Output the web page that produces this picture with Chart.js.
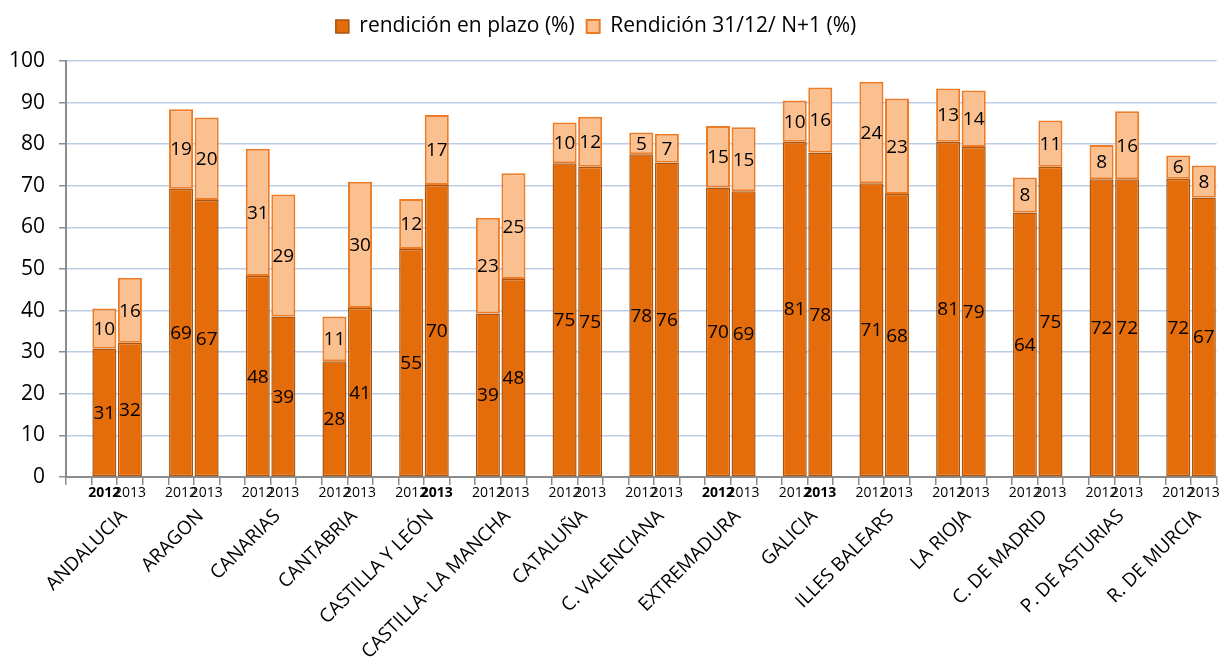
<!DOCTYPE html>
<html>
<head>
<meta charset="utf-8">
<script src="https://cdn.jsdelivr.net/npm/chart.js@4"></script>
<style>
  html, body { margin: 0; padding: 0; background: #ffffff; }
  #wrap { width: 1220px; height: 659px; position: relative; }
</style>
</head>
<body>
<div id="wrap"><canvas id="c"></canvas></div>
<script>
const regions = ['ANDALUCIA', 'ARAGON', 'CANARIAS', 'CANTABRIA', 'CASTILLA Y LEÓN', 'CASTILLA- LA MANCHA',
  'CATALUÑA', 'C. VALENCIANA', 'EXTREMADURA', 'GALICIA', 'ILLES BALEARS', 'LA RIOJA',
  'C. DE MADRID', 'P. DE ASTURIAS', 'R. DE MURCIA'];
const years = ['2012', '2013'];
const seriesNames = ['rendición en plazo (%)', 'Rendición 31/12/ N+1 (%)'];

const plazo2012 = [30.9, 69.3, 48.3, 27.8, 54.8, 39.3, 75.4, 77.6, 69.6, 80.6, 70.6, 80.6, 63.6, 71.6, 71.7];
const extra2012 = [9.6, 19.1, 30.6, 10.8, 12.0, 23.0, 9.8, 5.2, 14.8, 9.9, 24.4, 12.8, 8.4, 8.2, 5.6];
const plazo2013 = [32.3, 66.6, 38.6, 40.6, 70.2, 47.6, 74.6, 75.6, 68.7, 78.0, 68.0, 79.3, 74.6, 71.6, 67.2];
const extra2013 = [15.6, 19.8, 29.3, 30.4, 16.8, 25.4, 12.0, 6.9, 15.4, 15.6, 23.0, 13.6, 11.1, 16.3, 7.7];

// bold year labels in the original axis (region index, year)
const boldYears = [[0, '2012'], [4, '2013'], [8, '2012'], [9, '2013']];

// Build slot layout: for each region -> empty slot, 2012 bar, 2013 bar
const yearLabels = [];
const regionLabels = [];
const plazoData = [];
const extraData = [];
const boldIdx = new Set();
regions.forEach((r, i) => {
  yearLabels.push('', years[0], years[1]);
  regionLabels.push('', '', r);
  plazoData.push(null, plazo2012[i], plazo2013[i]);
  extraData.push(null, extra2012[i], extra2013[i]);
});
boldYears.forEach(([ri, yr]) => boldIdx.add(ri * 3 + 1 + years.indexOf(yr)));

const FONT = '"Open Sans", "DejaVu Sans", sans-serif';

const valueLabels = {
  id: 'valueLabels',
  afterDatasetsDraw(chart) {
    const ctx = chart.ctx;
    ctx.save();
    ctx.font = '19px ' + FONT;
    ctx.fillStyle = '#000000';
    ctx.textAlign = 'center';
    ctx.textBaseline = 'middle';
    chart.data.datasets.forEach((ds, i) => {
      const meta = chart.getDatasetMeta(i);
      meta.data.forEach((bar, j) => {
        const v = ds.data[j];
        if (v === null || v === undefined) return;
        const p = bar.getProps(['x', 'y', 'base'], true);
        ctx.fillText(String(Math.round(v)), p.x, (p.y + p.base) / 2 + 1);
      });
    });
    ctx.restore();
  }
};

// extra space between the legend and the plot area, and a slight left shift of the legend
const legendGap = {
  id: 'legendGap',
  beforeLayout(chart) {
    const lg = chart.legend;
    if (lg && !lg.__gapWrapped) {
      const orig = lg.fit;
      lg.fit = function () { orig.apply(this, arguments); this.height += 14; };
      lg.__gapWrapped = true;
    }
  },
  afterLayout(chart) {
    const lg = chart.legend;
    if (lg) { lg.left -= 13; lg.right -= 13; }
  }
};

new Chart(document.getElementById('c'), {
  type: 'bar',
  data: {
    labels: yearLabels,
    datasets: [
      {
        label: seriesNames[0],
        data: plazoData,
        backgroundColor: '#E46C0A',
        borderColor: '#A9550F',
        borderWidth: 1.5,
        borderSkipped: false,
        barPercentage: 0.94,
        categoryPercentage: 1.0
      },
      {
        label: seriesNames[1],
        data: extraData,
        backgroundColor: '#FAC090',
        borderColor: '#EE7B25',
        borderWidth: 2,
        borderSkipped: false,
        barPercentage: 0.94,
        categoryPercentage: 1.0
      }
    ]
  },
  options: {
    responsive: true,
    maintainAspectRatio: false,
    animation: false,
    layout: { padding: { top: 4, right: 2, left: 0, bottom: 0 } },
    plugins: {
      tooltip: { enabled: false },
      legend: {
        position: 'top',
        labels: {
          font: { family: FONT, size: 21 },
          color: '#000000',
          boxWidth: 13,
          boxHeight: 13,
          padding: 12
        }
      }
    },
    scales: {
      x: {
        stacked: true,
        offset: true,
        weight: 1,
        grid: {
          offset: true,
          drawOnChartArea: false,
          drawTicks: true,
          tickLength: 8,
          color: '#8C8C8C',
          lineWidth: 1.5
        },
        border: { display: true, color: '#8C8C8C', width: 2 },
        ticks: {
          autoSkip: false,
          maxRotation: 0,
          minRotation: 0,
          padding: 0,
          color: '#000000',
          font: (c) => ({ family: FONT, size: 14, weight: boldIdx.has(c.index) ? 'bold' : 'normal' })
        },
        afterFit: (s) => { s.height = 28; }
      },
      x2: {
        type: 'category',
        labels: regionLabels,
        position: 'bottom',
        offset: true,
        weight: 2,
        grid: { display: false, drawTicks: false },
        border: { display: false },
        ticks: {
          autoSkip: false,
          maxRotation: 45,
          minRotation: 45,
          padding: 0,
          labelOffset: -6,
          color: '#000000',
          font: { family: FONT, size: 19 }
        },
        afterFit: (s) => { s.height = 154; }
      },
      y: {
        stacked: true,
        min: 0,
        max: 100,
        ticks: {
          stepSize: 10,
          color: '#000000',
          padding: 14,
          font: { family: FONT, size: 21 }
        },
        grid: {
          color: '#BCCDE6',
          lineWidth: 1.5,
          tickColor: '#8C8C8C',
          tickLength: 7
        },
        border: { display: true, color: '#8C8C8C', width: 2 },
        afterFit: (s) => { s.width = 66; }
      }
    }
  },
  plugins: [valueLabels, legendGap]
});
</script>
</body>
</html>
